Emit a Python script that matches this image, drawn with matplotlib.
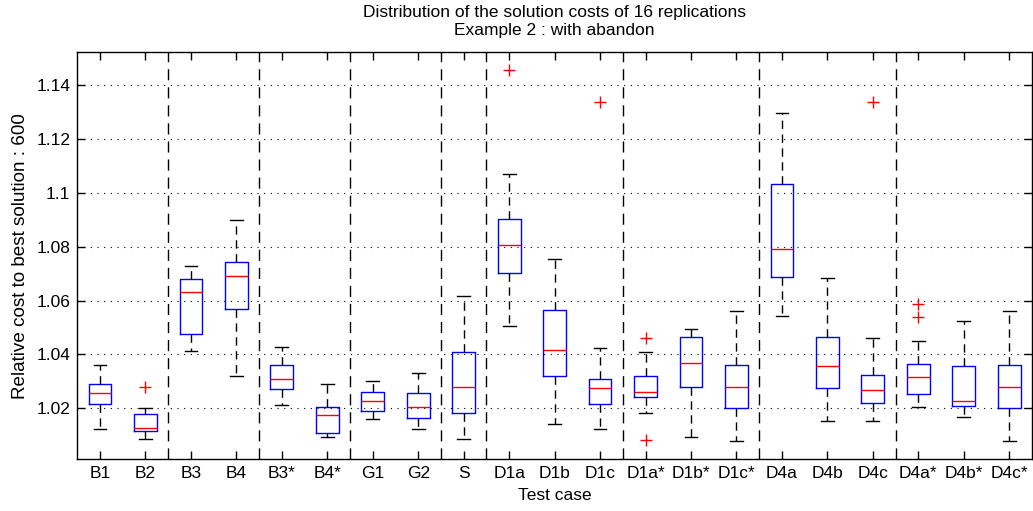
import matplotlib

matplotlib.use("Agg")
import matplotlib.pyplot as plt

plt.rcParams["font.family"] = ["Liberation Sans", "DejaVu Sans"]
plt.rcParams["font.size"] = 12.5

# test cases
cases = ["B1", "B2", "B3", "B4", "B3*", "B4*", "G1", "G2", "S", "D1a", "D1b", "D1c",
         "D1a*", "D1b*", "D1c*", "D4a", "D4b", "D4c", "D4a*", "D4b*", "D4c*"]
whisker_low = [1.0123, 1.0087, 1.0412, 1.0320, 1.0211, 1.0093, 1.0159, 1.0123, 1.0085, 1.0505, 1.0143,
               1.0123, 1.0183, 1.0093, 1.0079, 1.0544, 1.0154, 1.0154, 1.0204, 1.0167, 1.0079]
q1 = [1.0217, 1.0117, 1.0475, 1.0568, 1.0272, 1.0110, 1.0190, 1.0163, 1.0181, 1.0702, 1.0320,
      1.0217, 1.0242, 1.0278, 1.0202, 1.0689, 1.0274, 1.0221, 1.0254, 1.0210, 1.0202]
medians = [1.0257, 1.0128, 1.0632, 1.0690, 1.0310, 1.0175, 1.0228, 1.0206, 1.0280, 1.0808, 1.0418,
           1.0274, 1.0262, 1.0370, 1.0280, 1.0791, 1.0356, 1.0267, 1.0315, 1.0228, 1.0280]
q3 = [1.0290, 1.0180, 1.0679, 1.0742, 1.0359, 1.0206, 1.0259, 1.0257, 1.0408, 1.0903, 1.0564,
      1.0308, 1.0319, 1.0465, 1.0360, 1.1035, 1.0464, 1.0323, 1.0366, 1.0356, 1.0360]
whisker_high = [1.0359, 1.0202, 1.0730, 1.0898, 1.0427, 1.0290, 1.0303, 1.0330, 1.0619, 1.1072, 1.0756,
                1.0425, 1.0408, 1.0496, 1.0563, 1.1298, 1.0683, 1.0461, 1.0450, 1.0524, 1.0563]
outliers = [[], [1.0279], [], [], [], [], [], [], [], [1.1456], [],
            [1.1339], [1.0463, 1.0082], [], [], [], [], [1.1337], [1.0588, 1.0539], [], []]
# group separators sit between these boxes
separators = [2.5, 4.5, 6.5, 8.5, 9.5, 12.5, 15.5, 18.5]
ytick_values = [1.02, 1.04, 1.06, 1.08, 1.1, 1.12, 1.14]
ytick_labels = ["1.02", "1.04", "1.06", "1.08", "1.1", "1.12", "1.14"]

stats = []
for name, lo, a, m, b, hi, fl in zip(cases, whisker_low, q1, medians, q3, whisker_high, outliers):
    stats.append({"label": name, "whislo": lo, "q1": a, "med": m, "q3": b, "whishi": hi, "fliers": fl})

fig = plt.figure(figsize=(10.33, 5.11), dpi=100)
ax = fig.add_axes([0.0748, 0.1012, 0.9242, 0.797])

positions = list(range(1, len(cases) + 1))
ax.bxp(
    stats,
    positions=positions,
    widths=0.5,
    capwidths=0.28,
    showfliers=True,
    boxprops={"color": "blue", "linewidth": 1.0},
    medianprops={"color": "red", "linewidth": 1.0},
    whiskerprops={"color": "black", "linewidth": 1.0, "linestyle": (0, (6, 4))},
    capprops={"color": "black", "linewidth": 1.0},
    flierprops={"marker": "+", "markeredgecolor": "red", "markersize": 8, "markeredgewidth": 1.0},
)

for xs in separators:
    ax.axvline(xs, color="black", linewidth=1.0, linestyle=(0, (8, 5)), zorder=0)

ax.set_xlim(0.5, len(cases) + 0.5)
ax.set_ylim(1.00105, 1.15238)
ax.set_yticks(ytick_values)
ax.set_yticklabels(ytick_labels)
ax.set_xticks(positions)
ax.set_xticklabels(cases)
ax.yaxis.grid(True, linestyle=(0, (1, 5)), color="black", linewidth=0.8)
ax.tick_params(direction="in", length=6, width=1.0, top=True, right=True, pad=5)
for sp in ax.spines.values():
    sp.set_linewidth(1.0)

ax.set_title("Distribution of the solution costs of 16 replications\nExample 2 : with abandon",
             fontsize=12.5, pad=12, linespacing=1.3)
ax.set_xlabel("Test case", labelpad=5)
ax.set_ylabel("Relative cost to best solution : 600", fontsize=13.6, labelpad=5)

fig.savefig("out.png", dpi=100)
